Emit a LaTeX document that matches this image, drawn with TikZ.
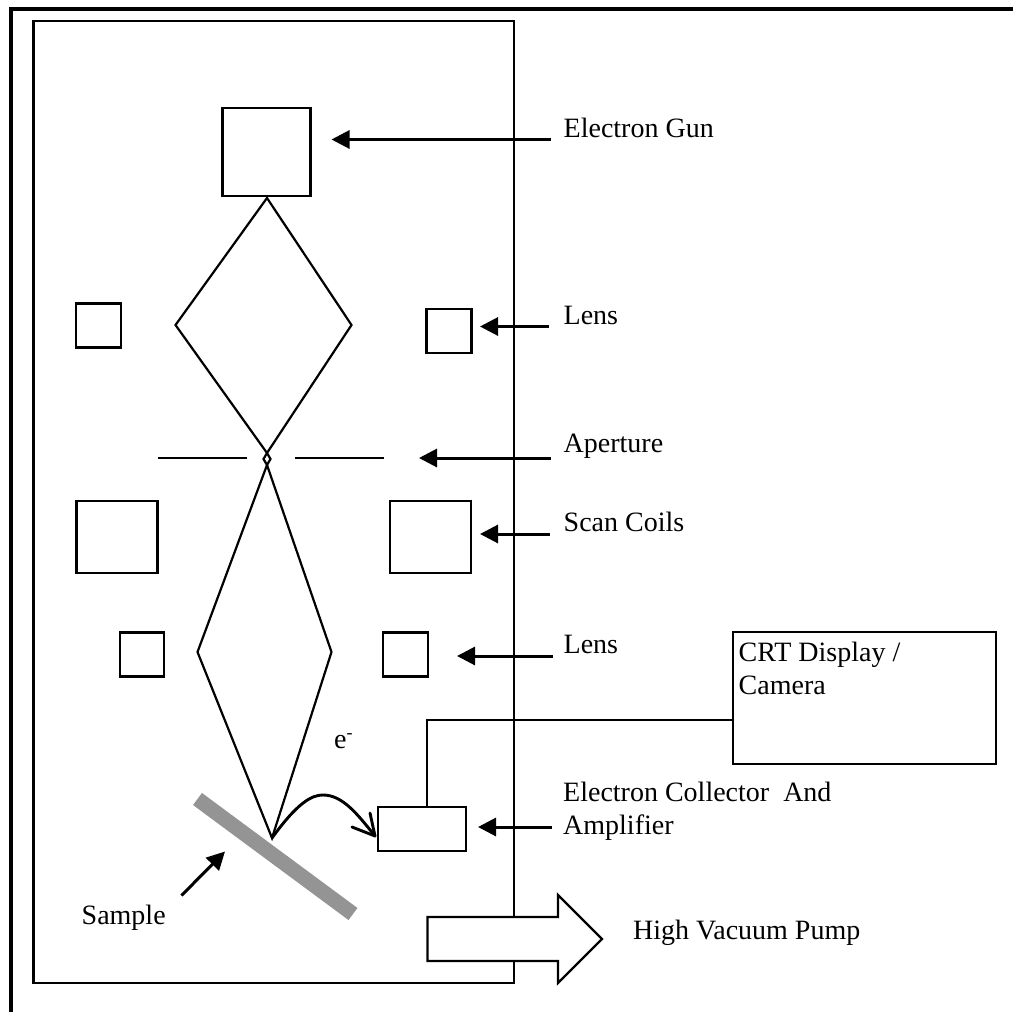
\documentclass[tikz,border=0pt]{standalone}
\usepackage{fontspec}
\setmainfont{Liberation Serif}
\usetikzlibrary{arrows.meta}
\tikzset{
  part/.style={draw=black,line width=2.2pt,fill=none,inner sep=0pt},
  conn/.style={line width=3pt,-{Triangle[length=18pt,width=18pt]}},
  wire/.style={line width=2.2pt},
  lab/.style={font=\fontsize{28}{32}\selectfont,anchor=base west,inner sep=0pt,align=left},
}
\begin{document}
\begin{tikzpicture}[x=1pt,y=-1pt]
\useasboundingbox (0,0) rectangle (1013,1012);
\fill[white] (0,0) rectangle (1013,1012);
\draw[line width=3.7pt] (10.7,1012) -- (10.7,8.7) -- (1013,8.7);
\coordinate (chTL) at (33.5,21.3); \coordinate (chBR) at (514.3,982.7);
\draw[wire] (chTL) rectangle (chBR);
% gun
\node[part,minimum width=88pt,minimum height=88pt] (gun) at (266.5,152) {};
% diamonds
\coordinate (d1t) at (267,198); \coordinate (d1l) at (175.5,325); \coordinate (d1r) at (351.5,325); \coordinate (d1b) at (267,453);
\draw[wire] (d1t) -- (d1r) -- (d1b) -- (d1l) -- cycle;
\coordinate (d2t) at (267,465); \coordinate (d2l) at (197.5,652); \coordinate (d2r) at (331.5,652); \coordinate (d2b) at (272,838);
\draw[wire] (d2t) -- (d2r) -- (d2b) -- (d2l) -- cycle;
\coordinate (xb) at (263.5,459); \coordinate (xd) at (270.5,459);
\draw[wire] (d1b) -- (xb) -- (d2t) -- (xd) -- cycle;
% aperture
\coordinate (a1) at (158,458); \coordinate (a2) at (247,458); \coordinate (a3) at (295,458); \coordinate (a4) at (384,458);
\draw[wire] (a1) -- (a2) (a3) -- (a4);
% lenses, coils
\node[part,minimum width=45pt,minimum height=44pt] (l1) at (98.5,325.5) {};
\node[part,minimum width=45pt,minimum height=44pt] (l2) at (449,331.3) {};
\node[part,minimum width=81pt,minimum height=72pt] (s1) at (117,537.3) {};
\node[part,minimum width=81pt,minimum height=72pt] (s2) at (430.5,537.3) {};
\node[part,minimum width=44pt,minimum height=44pt] (l3) at (142,654.5) {};
\node[part,minimum width=45pt,minimum height=44pt] (l4) at (405.2,654.5) {};
% sample
\coordinate (sa) at (197.5,799); \coordinate (sb) at (353,914);
\draw[line width=15pt,draw=black!42] (sa) -- (sb);
% collector
\node[part,minimum width=88pt,minimum height=44pt,fill=white] (col) at (422,829) {};
% CRT
\node[part,minimum width=263.3pt,minimum height=131.7pt] (crt) at (864.4,698.2) {};
\coordinate (w1) at (427,719.7);
\draw[wire] (col.north -| w1) -- (w1) -- (w1 -| crt.west);
% curved arrow
\draw[line width=2.9pt,line cap=round] (d2b) .. controls (298,802) and (312,795) .. (323,795) .. controls (343,795) and (358,815) .. (375,836);
\coordinate (ah) at (375,836);
\draw[line width=2.9pt,line cap=round,line join=round] (370,813) -- (ah) -- (352,827);
% pump
\draw[wire,fill=white,line join=miter] (427.5,917) -- (558,917) -- (558,895) -- (602,939) -- (558,983) -- (558,961) -- (427.5,961) -- cycle;
% labels
\node[lab] (t1) at (563.5,137) {Electron Gun};
\node[lab] (t2) at (563.5,324) {Lens};
\node[lab] (t3) at (563.5,452) {Aperture};
\node[lab] (t4) at (563.5,531) {Scan Coils};
\node[lab] (t5) at (563.5,653) {Lens};
\node[lab] (t6) at (738.5,661) {CRT Display /};
\node[lab] (t6b) at (738.5,694) {Camera};
\node[lab] (t7) at (563,801) {Electron Collector\ \ And};
\node[lab] (t7b) at (563,834) {Amplifier};
\node[lab] (t8) at (633,939) {High Vacuum Pump};
\node[lab] (t9) at (81.5,924) {Sample};
\node[lab] (t10) at (334,748) {e\raisebox{10pt}{\fontsize{18}{18}\selectfont -}};
% arrows
\coordinate (f1) at (551,139.5); \coordinate (f2) at (549,326.5); \coordinate (f3) at (551,458); \coordinate (f4) at (550,534); \coordinate (f5) at (553,656); \coordinate (f6) at (552,827); \coordinate (f7) at (181.5,895.5);
\coordinate (g1) at (331.5,139.5); \coordinate (g2) at (480,326.5); \coordinate (g3) at (419,458); \coordinate (g4) at (480,534); \coordinate (g5) at (457,656); \coordinate (g6) at (478,827); \coordinate (g7) at (225,851.5);
\draw[conn] (f1) -- (g1);
\draw[conn] (f2) -- (g2);
\draw[conn] (f3) -- (g3);
\draw[conn] (f4) -- (g4);
\draw[conn] (f5) -- (g5);
\draw[conn] (f6) -- (g6);
\draw[conn] (f7) -- (g7);
\end{tikzpicture}
\end{document}
